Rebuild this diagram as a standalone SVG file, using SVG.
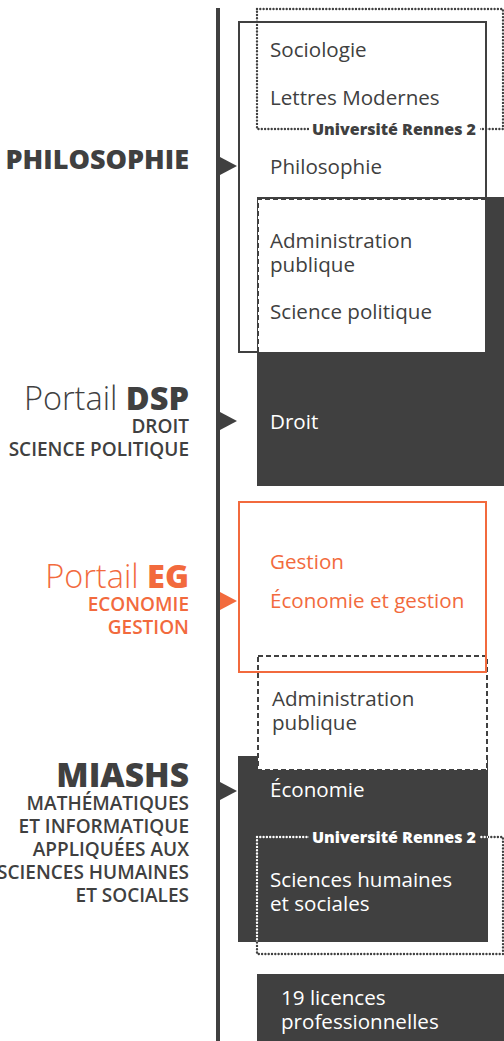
<svg xmlns="http://www.w3.org/2000/svg" width="504" height="1041" viewBox="0 0 504 1041">
<style>
  .item { font-family: "Open Sans", "Liberation Sans", sans-serif; font-size: 20.6px; fill: #404040; }
  .itemw { font-family: "Open Sans", "Liberation Sans", sans-serif; font-size: 20.6px; fill: #ffffff; }
  .itemo { font-family: "Open Sans", "Liberation Sans", sans-serif; font-size: 20.6px; fill: #f26a3d; }
  .title { font-family: "Open Sans", "Liberation Sans", sans-serif; font-weight: 800; fill: #404040; text-anchor: end; }
  .sub { font-family: "Open Sans", "Liberation Sans", sans-serif; font-weight: 600; font-size: 19px; fill: #404040; text-anchor: end; }
  .light { font-weight: 300; }
  .univ { font-family: "Open Sans", "Liberation Sans", sans-serif; font-weight: 800; font-size: 16px; }
  .dark { fill: #404040; }
  .solid { fill: #ffffff; stroke: #404040; stroke-width: 2; }
  .dashed { fill: none; stroke: #404040; stroke-width: 2; stroke-dasharray: 5 3; }
  .dotted { fill: none; stroke: #404040; stroke-width: 2.4; stroke-dasharray: 0 3.3; stroke-linecap: round; }
  .dottedw { fill: none; stroke: #ffffff; stroke-width: 2.4; stroke-dasharray: 0 3.3; stroke-linecap: round; }
  .arrow { fill: #404040; }
</style>
<defs>
  <clipPath id="clipMiashs"><rect x="238" y="756" width="250" height="186"/></clipPath>
</defs>

<!-- timeline connectors -->
<g id="connectors">
  <rect x="216" y="8" width="4" height="1033" fill="#404040"/>
  <polygon class="arrow" points="220,157 237,166 220,175"/>
  <polygon class="arrow" points="220,412 237,421 220,430"/>
  <polygon points="220,592 237,601 220,610" fill="#f26a3d"/>
  <polygon class="arrow" points="220,782 237,791 220,800"/>
</g>

<!-- left labels -->
<g id="label-philosophie">
  <text class="title" x="189" y="169" font-size="27">PHILOSOPHIE</text>
</g>
<g id="label-dsp">
  <text class="title" x="189" y="410" font-size="32.5"><tspan class="light">Portail </tspan>DSP</text>
  <text class="sub" x="189" y="433">DROIT</text>
  <text class="sub" x="189" y="456">SCIENCE POLITIQUE</text>
</g>
<g id="label-eg">
  <text class="title" x="189" y="588" font-size="32.5" style="fill:#f26a3d"><tspan class="light">Portail </tspan>EG</text>
  <text class="sub" x="189" y="611" style="fill:#f26a3d">ECONOMIE</text>
  <text class="sub" x="189" y="634" style="fill:#f26a3d">GESTION</text>
</g>
<g id="label-miashs">
  <text class="title" x="189" y="787" font-size="33.5">MIASHS</text>
  <text class="sub" x="189" y="810">MATHÉMATIQUES</text>
  <text class="sub" x="189" y="833">ET INFORMATIQUE</text>
  <text class="sub" x="189" y="856">APPLIQUÉES AUX</text>
  <text class="sub" x="189" y="879">SCIENCES HUMAINES</text>
  <text class="sub" x="189" y="902">ET SOCIALES</text>
</g>

<!-- Philosophie block -->
<g id="node-philosophie">
  <rect class="solid" x="239" y="22" width="247" height="330"/>
</g>
<g id="node-droit">
  <rect class="dark" x="257" y="197" width="247" height="289"/>
  <rect x="258" y="199" width="227" height="153" fill="#ffffff"/>
  <path class="dashed" d="M258,352 V199 H485"/>
  <text class="itemw" x="270" y="429">Droit</text>
</g>
<g id="node-rennes2-top">
  <rect class="dotted" x="257" y="9" width="246" height="120"/>
  <rect x="309" y="121" width="171" height="15" fill="#ffffff"/>
  <text class="univ dark" x="312" y="135">Université Rennes 2</text>
</g>
<g id="items-philosophie">
  <text class="item" x="270" y="57">Sociologie</text>
  <text class="item" x="270" y="105">Lettres Modernes</text>
  <text class="item" x="270" y="174">Philosophie</text>
  <text class="item" x="270" y="248">Administration</text>
  <text class="item" x="270" y="272">publique</text>
  <text class="item" x="270" y="319">Science politique</text>
</g>

<!-- MIASHS block -->
<g id="node-miashs">
  <rect class="dark" x="238" y="756" width="250" height="186"/>
  <text class="itemw" x="270" y="797">Économie</text>
</g>
<g id="node-admin-eg">
  <rect x="258" y="656" width="229" height="114" fill="#ffffff"/>
  <rect class="dashed" x="258" y="656" width="229" height="114"/>
  <text class="item" x="272" y="706">Administration</text>
  <text class="item" x="272" y="730">publique</text>
</g>
<g id="node-eg">
  <rect x="239" y="502" width="247" height="170" fill="none" stroke="#f26a3d" stroke-width="2"/>
  <text class="itemo" x="270" y="569">Gestion</text>
  <text class="itemo" x="270" y="608">Économie et gestion</text>
</g>
<g id="node-rennes2-bottom">
  <rect class="dotted" x="257" y="837" width="246" height="117"/>
  <rect class="dottedw" x="257" y="837" width="246" height="117" clip-path="url(#clipMiashs)"/>
  <rect x="309" y="829" width="171" height="15" fill="#404040"/>
  <text class="univ" x="312" y="843" fill="#ffffff">Université Rennes 2</text>
  <text class="itemw" x="270" y="887">Sciences humaines</text>
  <text class="itemw" x="270" y="911">et sociales</text>
</g>

<g id="node-licences">
  <rect class="dark" x="257" y="974" width="247" height="67"/>
  <text class="itemw" x="281" y="1005">19 licences</text>
  <text class="itemw" x="281" y="1029">professionnelles</text>
</g>
</svg>
